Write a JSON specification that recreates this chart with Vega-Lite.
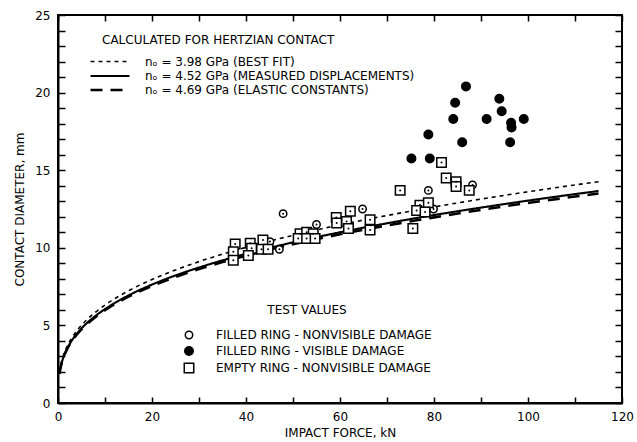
{
  "$schema": "https://vega.github.io/schema/vega-lite/v6.json",
  "width": 564,
  "height": 388,
  "autosize": "none",
  "padding": {"left": 58, "top": 15, "right": 15, "bottom": 39},
  "background": "white",
  "config": {
    "view": {"stroke": "black", "strokeWidth": 2},
    "font": "DejaVu Sans",
    "legend": {
      "padding": 0,
      "titleFont": "DejaVu Sans",
      "titleFontSize": 12,
      "titleFontWeight": "normal",
      "titleColor": "black",
      "titleLimit": 600,
      "labelFont": "DejaVu Sans",
      "labelFontSize": 12,
      "labelColor": "black",
      "labelLimit": 500
    }
  },
  "datasets": {
    "curves": [
      {"F": 0.3, "d": 1.96, "s": "a"}, {"F": 0.5, "d": 2.33, "s": "a"}, {"F": 1, "d": 2.93, "s": "a"}, {"F": 2, "d": 3.69, "s": "a"}, {"F": 3, "d": 4.23, "s": "a"}, {"F": 4, "d": 4.65, "s": "a"}, {"F": 5, "d": 5.01, "s": "a"}, {"F": 6, "d": 5.33, "s": "a"}, {"F": 8, "d": 5.86, "s": "a"}, {"F": 10, "d": 6.32, "s": "a"}, {"F": 12, "d": 6.71, "s": "a"}, {"F": 15, "d": 7.23, "s": "a"}, {"F": 20, "d": 7.96, "s": "a"}, {"F": 25, "d": 8.57, "s": "a"}, {"F": 30, "d": 9.11, "s": "a"}, {"F": 35, "d": 9.59, "s": "a"}, {"F": 40, "d": 10.03, "s": "a"}, {"F": 50, "d": 10.80, "s": "a"}, {"F": 60, "d": 11.48, "s": "a"}, {"F": 70, "d": 12.08, "s": "a"}, {"F": 80, "d": 12.63, "s": "a"}, {"F": 90, "d": 13.14, "s": "a"}, {"F": 100, "d": 13.61, "s": "a"}, {"F": 110, "d": 14.05, "s": "a"}, {"F": 115, "d": 14.26, "s": "a"},
      {"F": 0.3, "d": 1.88, "s": "b"}, {"F": 0.5, "d": 2.23, "s": "b"}, {"F": 1, "d": 2.81, "s": "b"}, {"F": 2, "d": 3.54, "s": "b"}, {"F": 3, "d": 4.05, "s": "b"}, {"F": 4, "d": 4.46, "s": "b"}, {"F": 5, "d": 4.81, "s": "b"}, {"F": 6, "d": 5.11, "s": "b"}, {"F": 8, "d": 5.62, "s": "b"}, {"F": 10, "d": 6.05, "s": "b"}, {"F": 12, "d": 6.43, "s": "b"}, {"F": 15, "d": 6.93, "s": "b"}, {"F": 20, "d": 7.63, "s": "b"}, {"F": 25, "d": 8.22, "s": "b"}, {"F": 30, "d": 8.73, "s": "b"}, {"F": 35, "d": 9.19, "s": "b"}, {"F": 40, "d": 9.61, "s": "b"}, {"F": 50, "d": 10.35, "s": "b"}, {"F": 60, "d": 11.00, "s": "b"}, {"F": 70, "d": 11.58, "s": "b"}, {"F": 80, "d": 12.11, "s": "b"}, {"F": 90, "d": 12.59, "s": "b"}, {"F": 100, "d": 13.04, "s": "b"}, {"F": 110, "d": 13.46, "s": "b"}, {"F": 115, "d": 13.66, "s": "b"},
      {"F": 0.3, "d": 1.86, "s": "c"}, {"F": 0.5, "d": 2.20, "s": "c"}, {"F": 1, "d": 2.78, "s": "c"}, {"F": 2, "d": 3.50, "s": "c"}, {"F": 3, "d": 4.00, "s": "c"}, {"F": 4, "d": 4.41, "s": "c"}, {"F": 5, "d": 4.75, "s": "c"}, {"F": 6, "d": 5.04, "s": "c"}, {"F": 8, "d": 5.55, "s": "c"}, {"F": 10, "d": 5.98, "s": "c"}, {"F": 12, "d": 6.36, "s": "c"}, {"F": 15, "d": 6.85, "s": "c"}, {"F": 20, "d": 7.54, "s": "c"}, {"F": 25, "d": 8.12, "s": "c"}, {"F": 30, "d": 8.63, "s": "c"}, {"F": 35, "d": 9.08, "s": "c"}, {"F": 40, "d": 9.49, "s": "c"}, {"F": 50, "d": 10.23, "s": "c"}, {"F": 60, "d": 10.87, "s": "c"}, {"F": 70, "d": 11.44, "s": "c"}, {"F": 80, "d": 11.96, "s": "c"}, {"F": 90, "d": 12.44, "s": "c"}, {"F": 100, "d": 12.89, "s": "c"}, {"F": 110, "d": 13.30, "s": "c"}, {"F": 115, "d": 13.50, "s": "c"}
    ],
    "pts": [
      {"F": 86.8, "d": 20.4, "t": "F"}, {"F": 93.9, "d": 19.6, "t": "F"}, {"F": 84.5, "d": 19.35, "t": "F"}, {"F": 94.4, "d": 18.8, "t": "F"}, {"F": 84.1, "d": 18.3, "t": "F"}, {"F": 91.2, "d": 18.3, "t": "F"}, {"F": 96.4, "d": 18.05, "t": "F"}, {"F": 96.5, "d": 17.75, "t": "F"}, {"F": 99.1, "d": 18.3, "t": "F"}, {"F": 78.8, "d": 17.3, "t": "F"}, {"F": 86.0, "d": 16.8, "t": "F"}, {"F": 96.2, "d": 16.8, "t": "F"}, {"F": 75.2, "d": 15.75, "t": "F"}, {"F": 79.1, "d": 15.75, "t": "F"},
      {"F": 47.9, "d": 12.2, "t": "O"}, {"F": 47.1, "d": 9.9, "t": "O"}, {"F": 55.0, "d": 11.5, "t": "O"}, {"F": 64.8, "d": 12.5, "t": "O"}, {"F": 78.8, "d": 13.7, "t": "O"}, {"F": 88.2, "d": 14.05, "t": "O"}, {"F": 79.9, "d": 12.5, "t": "O"}, {"F": 45.1, "d": 10.4, "t": "O"}, {"F": 66.4, "d": 11.45, "t": "O"},
      {"F": 81.6, "d": 15.5, "t": "S"}, {"F": 82.6, "d": 14.5, "t": "S"}, {"F": 84.7, "d": 14.26, "t": "S"}, {"F": 84.7, "d": 13.95, "t": "S"}, {"F": 87.5, "d": 13.7, "t": "S"}, {"F": 72.8, "d": 13.7, "t": "S"}, {"F": 62.2, "d": 12.35, "t": "S"}, {"F": 59.2, "d": 11.96, "t": "S"}, {"F": 59.3, "d": 11.6, "t": "S"}, {"F": 61.4, "d": 11.7, "t": "S"}, {"F": 61.8, "d": 11.25, "t": "S"}, {"F": 66.4, "d": 11.8, "t": "S"}, {"F": 66.4, "d": 11.15, "t": "S"}, {"F": 75.5, "d": 11.25, "t": "S"}, {"F": 77.0, "d": 12.75, "t": "S"}, {"F": 78.8, "d": 12.9, "t": "S"}, {"F": 76.3, "d": 12.4, "t": "S"}, {"F": 78.1, "d": 12.3, "t": "S"}, {"F": 51.5, "d": 10.9, "t": "S"}, {"F": 52.9, "d": 11.0, "t": "S"}, {"F": 54.3, "d": 10.9, "t": "S"}, {"F": 51.1, "d": 10.6, "t": "S"}, {"F": 52.9, "d": 10.6, "t": "S"}, {"F": 54.7, "d": 10.6, "t": "S"}, {"F": 37.7, "d": 10.25, "t": "S"}, {"F": 37.3, "d": 9.75, "t": "S"}, {"F": 37.3, "d": 9.2, "t": "S"}, {"F": 40.9, "d": 10.3, "t": "S"}, {"F": 41.2, "d": 9.97, "t": "S"}, {"F": 40.5, "d": 9.5, "t": "S"}, {"F": 43.6, "d": 10.5, "t": "S"}, {"F": 43.3, "d": 9.9, "t": "S"}, {"F": 44.7, "d": 9.9, "t": "S"}
    ]
  },
  "encoding": {
    "x": {
      "field": "F", "type": "quantitative",
      "scale": {"domain": [0, 120], "nice": false, "zero": false},
      "axis": {
        "orient": "bottom", "title": "IMPACT FORCE, kN",
        "values": [0, 10, 20, 30, 40, 50, 60, 70, 80, 90, 100, 110, 120],
        "labelExpr": "datum.value % 20 === 0 ? datum.label : ''",
        "domain": true, "domainColor": "black", "domainWidth": 2,
        "ticks": true, "tickColor": "black", "tickWidth": 1.5, "tickSize": 7, "tickOpacity": 0,
        "grid": true, "gridColor": "black", "gridWidth": 1.5, "gridOpacity": 1, "gridDash": [6, 376, 6],
        "labelFont": "DejaVu Sans", "labelFontSize": 12, "labelColor": "black",
        "titleFont": "DejaVu Sans", "titleFontSize": 12, "titleFontWeight": "normal", "titleColor": "black",
        "labelPadding": 1, "titlePadding": 5, "labelFlush": false, "labelOverlap": false, "zindex": 2
      }
    },
    "y": {
      "field": "d", "type": "quantitative",
      "scale": {"domain": [0, 25], "nice": false, "zero": false},
      "axis": {
        "orient": "left", "title": "CONTACT DIAMETER, mm",
        "values": [0, 1, 2, 3, 4, 5, 6, 7, 8, 9, 10, 11, 12, 13, 14, 15, 16, 17, 18, 19, 20, 21, 22, 23, 24, 25],
        "labelExpr": "datum.value % 5 === 0 ? datum.label : ''",
        "domain": true, "domainColor": "black", "domainWidth": 2,
        "ticks": true, "tickColor": "black", "tickWidth": 1.5, "tickSize": 7, "tickOpacity": 0,
        "grid": true, "gridColor": "black", "gridWidth": 1.5, "gridOpacity": 1, "gridDash": [7, 550, 7],
        "labelFont": "DejaVu Sans", "labelFontSize": 12, "labelColor": "black",
        "titleFont": "DejaVu Sans", "titleFontSize": 12, "titleFontWeight": "normal", "titleColor": "black",
        "labelPadding": 1, "titlePadding": 8, "labelFlush": false, "labelOverlap": false, "zindex": 2
      }
    }
  },
  "layer": [
    {
      "data": {"name": "curves"},
      "mark": {"type": "line", "color": "black", "interpolate": "monotone"},
      "encoding": {
        "strokeDash": {
          "field": "s", "type": "nominal",
          "scale": {"domain": ["a", "b", "c"], "range": [[4, 4], [1, 0], [12, 8]]},
          "legend": {
            "orient": "none", "legendX": 44, "legendY": 20,
            "title": "CALCULATED FOR HERTZIAN CONTACT",
            "titlePadding": 7, "rowPadding": 0,
            "symbolType": "M-3,0H3", "symbolSize": 169, "symbolStrokeColor": "black",
            "labelOffset": 27,
            "labelExpr": "datum.value === 'a' ? 'nₒ = 3.98 GPa (BEST FIT)' : datum.value === 'b' ? 'nₒ = 4.52 GPa (MEASURED DISPLACEMENTS)' : 'nₒ = 4.69 GPa (ELASTIC CONSTANTS)'"
          }
        },
        "strokeWidth": {
          "field": "s", "type": "nominal",
          "scale": {"domain": ["a", "b", "c"], "range": [1.6, 2.6, 2]},
          "legend": {
            "orient": "none", "legendX": 44, "legendY": 20,
            "title": "CALCULATED FOR HERTZIAN CONTACT",
            "titlePadding": 7, "rowPadding": 0,
            "symbolType": "M-3,0H3", "symbolSize": 169, "symbolStrokeColor": "black",
            "labelOffset": 27,
            "labelExpr": "datum.value === 'a' ? 'nₒ = 3.98 GPa (BEST FIT)' : datum.value === 'b' ? 'nₒ = 4.52 GPa (MEASURED DISPLACEMENTS)' : 'nₒ = 4.69 GPa (ELASTIC CONSTANTS)'"
          }
        }
      }
    },
    {
      "data": {"name": "pts"},
      "mark": {"type": "point", "filled": true, "stroke": "black", "strokeWidth": 1.5, "opacity": 1},
      "encoding": {
        "shape": {
          "field": "t", "type": "nominal",
          "scale": {"domain": ["O", "F", "S"], "range": ["circle", "circle", "square"]},
          "legend": {
            "orient": "none", "legendX": 125, "legendY": 290,
            "title": "TEST VALUES", "titleAnchor": "middle",
            "titlePadding": 12, "rowPadding": 1,
            "labelOffset": 21,
            "labelExpr": "datum.value === 'O' ? 'FILLED RING - NONVISIBLE DAMAGE' : datum.value === 'F' ? 'FILLED RING - VISIBLE DAMAGE' : 'EMPTY RING - NONVISIBLE DAMAGE'",
            "encode": {"symbols": {"update": {"stroke": {"value": "black"}, "strokeWidth": {"value": 1.5}}}}
          }
        },
        "fill": {
          "field": "t", "type": "nominal",
          "scale": {"domain": ["O", "F", "S"], "range": ["white", "black", "white"]},
          "legend": {
            "orient": "none", "legendX": 125, "legendY": 290,
            "title": "TEST VALUES", "titleAnchor": "middle",
            "titlePadding": 12, "rowPadding": 1,
            "labelOffset": 21,
            "labelExpr": "datum.value === 'O' ? 'FILLED RING - NONVISIBLE DAMAGE' : datum.value === 'F' ? 'FILLED RING - VISIBLE DAMAGE' : 'EMPTY RING - NONVISIBLE DAMAGE'",
            "encode": {"symbols": {"update": {"stroke": {"value": "black"}, "strokeWidth": {"value": 1.5}}}}
          }
        },
        "size": {
          "field": "t", "type": "nominal",
          "scale": {"domain": ["O", "F", "S"], "range": [55, 90, 50]},
          "legend": {
            "orient": "none", "legendX": 125, "legendY": 290,
            "title": "TEST VALUES", "titleAnchor": "middle",
            "titlePadding": 12, "rowPadding": 1,
            "labelOffset": 21,
            "labelExpr": "datum.value === 'O' ? 'FILLED RING - NONVISIBLE DAMAGE' : datum.value === 'F' ? 'FILLED RING - VISIBLE DAMAGE' : 'EMPTY RING - NONVISIBLE DAMAGE'",
            "encode": {"symbols": {"update": {"stroke": {"value": "black"}, "strokeWidth": {"value": 1.5}}}}
          }
        }
      }
    },
    {
      "data": {"name": "pts"},
      "transform": [{"filter": "datum.t !== 'F'"}],
      "mark": {"type": "point", "filled": true, "color": "black", "size": 4, "opacity": 1},
      "encoding": {}
    }
  ]
}
